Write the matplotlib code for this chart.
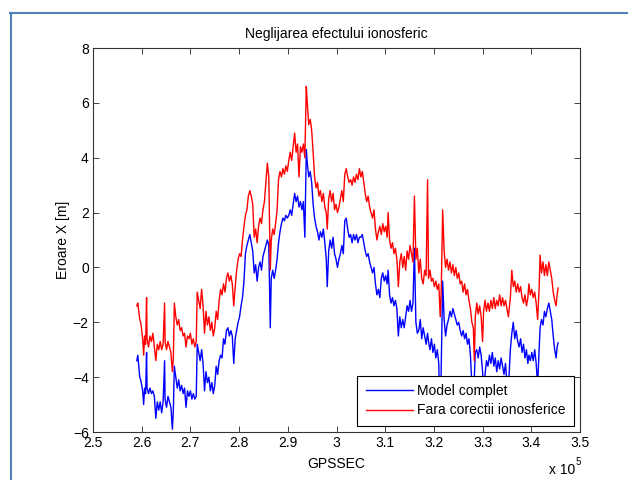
import matplotlib
matplotlib.use('Agg')
import matplotlib.pyplot as plt
from matplotlib.lines import Line2D

plt.rcParams['font.family'] = ['Liberation Sans', 'DejaVu Sans']
plt.rcParams['font.size'] = 10

# GPSSEC in units of 1e5 s
gpssec = [
    2.590, 2.592, 2.594, 2.596, 2.598, 2.600, 2.602, 2.604, 2.606, 2.608,
    2.610, 2.611, 2.614, 2.617, 2.620, 2.623, 2.626, 2.629, 2.632, 2.635,
    2.638, 2.641, 2.644, 2.647, 2.648, 2.651, 2.654, 2.657, 2.660, 2.663,
    2.665, 2.667, 2.670, 2.673, 2.676, 2.679, 2.682, 2.685, 2.688, 2.691,
    2.694, 2.697, 2.700, 2.703, 2.706, 2.709, 2.712, 2.714, 2.717, 2.720,
    2.723, 2.726, 2.729, 2.732, 2.735, 2.738, 2.741, 2.744, 2.747, 2.750,
    2.753, 2.756, 2.759, 2.762, 2.765, 2.768, 2.771, 2.774, 2.777, 2.780,
    2.783, 2.786, 2.789, 2.792, 2.795, 2.798, 2.801, 2.804, 2.807, 2.810,
    2.813, 2.816, 2.819, 2.822, 2.825, 2.828, 2.831, 2.834, 2.837, 2.840,
    2.843, 2.846, 2.849, 2.852, 2.855, 2.858, 2.861, 2.864, 2.866, 2.869,
    2.872, 2.875, 2.878, 2.881, 2.884, 2.887, 2.890, 2.893, 2.896, 2.899,
    2.902, 2.905, 2.908, 2.911, 2.914, 2.917, 2.920, 2.923, 2.926, 2.929,
    2.932, 2.935, 2.938, 2.940, 2.943, 2.946, 2.949, 2.952, 2.955, 2.958,
    2.961, 2.964, 2.967, 2.970, 2.973, 2.976, 2.979, 2.981, 2.984, 2.987,
    2.990, 2.993, 2.996, 2.999, 3.002, 3.005, 3.008, 3.011, 3.014, 3.017,
    3.020, 3.023, 3.026, 3.029, 3.032, 3.035, 3.038, 3.041, 3.044, 3.047,
    3.050, 3.053, 3.056, 3.059, 3.062, 3.065, 3.068, 3.071, 3.074, 3.077,
    3.080, 3.083, 3.086, 3.089, 3.092, 3.095, 3.098, 3.101, 3.104, 3.106,
    3.109, 3.112, 3.115, 3.118, 3.121, 3.124, 3.127, 3.130, 3.133, 3.136,
    3.139, 3.142, 3.145, 3.148, 3.151, 3.154, 3.157, 3.160, 3.163, 3.166,
    3.169, 3.172, 3.175, 3.178, 3.181, 3.184, 3.187, 3.189, 3.192, 3.195,
    3.198, 3.201, 3.204, 3.207, 3.210, 3.213, 3.215, 3.218, 3.221, 3.224,
    3.227, 3.230, 3.233, 3.236, 3.239, 3.242, 3.245, 3.248, 3.251, 3.254,
    3.257, 3.260, 3.263, 3.266, 3.269, 3.272, 3.275, 3.278, 3.281, 3.283,
    3.285, 3.288, 3.291, 3.294, 3.297, 3.300, 3.302, 3.305, 3.308, 3.311,
    3.314, 3.317, 3.320, 3.323, 3.326, 3.329, 3.332, 3.335, 3.338, 3.341,
    3.344, 3.347, 3.350, 3.353, 3.357, 3.360, 3.363, 3.366, 3.369, 3.372,
    3.375, 3.378, 3.381, 3.384, 3.387, 3.390, 3.393, 3.395, 3.398, 3.401,
    3.404, 3.407, 3.410, 3.413, 3.416, 3.418, 3.421, 3.424, 3.427, 3.430,
    3.433, 3.436, 3.439, 3.442, 3.445, 3.448, 3.451, 3.453, 3.455,
]

model_complet = [
    -3.4, -3.2, -3.6, -4.0, -4.1, -4.3, -4.5, -5.0, -4.4, -4.6,
    -3.1, -4.4, -4.6, -4.4, -4.6, -4.5, -4.7, -5.5, -4.9, -5.2,
    -4.9, -5.3, -4.9, -3.4, -4.8, -5.1, -4.7, -4.9, -5.1, -5.9,
    -5.2, -3.6, -4.0, -4.4, -4.1, -4.5, -4.3, -4.6, -4.4, -5.1,
    -4.5, -4.7, -4.5, -4.8, -4.6, -4.8, -4.7, -2.8, -3.1, -3.4,
    -3.0, -3.5, -4.5, -3.8, -4.2, -4.0, -4.5, -4.2, -4.6, -4.3,
    -3.6, -3.9, -3.4, -3.2, -3.3, -2.6, -2.8, -2.3, -2.2, -2.5,
    -2.3, -2.5, -3.5, -2.6, -2.3, -2.0, -1.8, -1.4, -1.1, -0.5,
    0.5, 0.8, 1.0, 1.2, 0.9, 0.6, -0.2, 0.1, -0.5, 0.0,
    0.2, -0.1, 0.4, 0.6, 0.8, 1.0, 0.8, -2.2, -0.4, -0.1,
    -0.4, -0.1, 0.3, 0.9, 1.3, 1.6, 1.8, 1.7, 1.9, 1.8,
    1.9, 2.1, 1.9, 2.3, 2.7, 2.4, 2.6, 2.2, 2.4, 2.1,
    2.4, 1.1, 4.3, 3.8, 3.3, 3.5, 3.1, 2.3, 1.8, 1.5,
    1.3, 1.0, 1.3, 1.1, 1.4, 0.9, 0.3, -0.7, 0.6, 1.0,
    0.7, 1.1, 0.5, 0.3, 0.0, 0.3, 0.5, 0.8, 0.5, 1.7,
    1.8, 1.4, 1.1, 1.2, 0.9, 1.2, 1.0, 1.2, 0.9, 1.1,
    1.1, 1.2, 0.9, 0.6, 0.4, 0.5, 0.2, 0.0, -0.2, 0.0,
    -0.6, -1.0, -0.8, -1.1, -0.4, -0.2, -0.5, -0.3, -0.6, -0.1,
    -1.0, -1.3, -1.1, -1.4, -1.2, -1.5, -2.5, -1.8, -2.2, -1.9,
    -2.2, -1.8, -1.4, -1.6, -1.2, -1.6, -1.3, 0.7, -2.0, -2.4,
    -2.3, -1.9, -2.6, -2.2, -2.5, -2.8, -2.4, -2.7, -3.0, -2.6,
    -3.1, -2.8, -3.3, -3.0, -3.5, -5.8, -3.6, -0.5, -1.9, -2.5,
    -2.1, -1.9, -1.6, -1.8, -1.5, -1.7, -1.9, -2.1, -2.0, -2.3,
    -2.5, -2.3, -2.6, -2.4, -2.8, -2.6, -3.2, -4.3, -4.6, -4.0,
    -3.1, -3.0, -3.3, -2.9, -3.2, -3.8, -4.6, -3.9, -3.4, -3.6,
    -3.2, -3.5, -3.1, -3.6, -3.3, -3.8, -3.4, -3.7, -3.3, -3.6,
    -3.9, -3.5, -4.2, -4.4, -3.0, -2.4, -2.0, -2.6, -2.3, -2.7,
    -2.9, -2.6, -3.1, -2.8, -3.3, -3.0, -3.5, -3.2, -3.4, -3.1,
    -3.4, -3.0, -3.5, -4.3, -3.0, -2.2, -1.9, -2.1, -1.6, -1.8,
    -1.5, -1.3, -1.6, -1.9, -2.5, -3.0, -3.3, -2.9, -2.75,
]

fara_corectii = [
    -1.4, -1.3, -1.6, -1.9, -2.0, -2.3, -2.6, -3.2, -2.5, -2.8,
    -1.1, -2.6, -2.9, -2.5, -2.7, -2.4, -2.9, -3.4, -2.8, -3.0,
    -2.7, -3.0, -2.8, -1.3, -2.7, -3.0, -2.7, -2.9, -3.1, -3.8,
    -3.3, -1.3, -1.8, -2.1, -1.9, -2.3, -2.2, -2.5, -2.4, -2.9,
    -2.5, -2.6, -2.4, -2.8, -2.6, -2.9, -2.7, -0.9, -1.2, -1.5,
    -0.8, -1.4, -2.4, -1.6, -2.1, -1.8, -2.3, -2.0, -2.5, -2.2,
    -1.6, -1.9, -1.2, -0.8, -1.0, -0.6, -0.9, -0.4, -0.2, -0.5,
    -0.3, -0.6, -1.4, -0.7, -0.1, 0.3, 0.5, 0.4, 1.0, 1.5,
    1.9, 2.1, 2.6, 2.8, 2.6, 2.3, 1.1, 1.4, 0.9, 1.5,
    1.8, 1.6, 2.1, 2.4, 3.1, 3.8, 3.3, -0.1, 1.0, 1.4,
    1.2, 1.6, 2.1, 3.2, 3.5, 3.3, 3.6, 3.4, 3.7, 3.5,
    3.9, 4.2, 3.9, 4.4, 4.9, 4.2, 4.5, 3.3, 4.4, 4.2,
    4.5, 4.0, 6.6, 6.0, 5.2, 5.4, 5.0, 4.2, 3.3, 2.9,
    3.1, 2.6, 2.8, 2.4, 2.7, 2.2, 2.0, 1.4, 2.5, 2.8,
    2.4, 2.7, 2.1, 2.3, 2.0, 2.2, 2.5, 2.8, 2.4, 3.4,
    3.6, 3.3, 3.1, 3.2, 3.0, 3.3, 3.1, 3.4, 3.2, 3.6,
    3.3, 3.5, 3.1, 2.7, 2.4, 2.6, 2.2, 2.0, 1.8, 2.1,
    1.4, 1.0, 1.3, 1.5, 1.2, 1.6, 1.3, 1.5, 1.1, 2.0,
    1.0, 0.7, 0.9, 0.5, 0.7, 0.3, -0.7, 0.2, 0.5, 0.0,
    0.4, -0.1, 0.6, 0.3, 0.8, 0.5, 0.2, 2.6, 0.3, 0.7,
    -0.2, 0.3, -0.4, -0.6, -0.1, -0.3, 3.2, -0.4, -0.1, -0.5,
    -0.4, -0.7, -0.5, -0.8, -0.6, -1.8, -0.9, 2.1, 0.6, 0.0,
    0.3, -0.1, 0.2, -0.2, 0.1, -0.3, 0.0, -0.4, -0.2, -0.6,
    -0.5, -0.9, -0.6, -1.0, -0.8, -1.2, -1.5, -2.0, -2.2, -3.4,
    -1.8, -1.3, -1.7, -1.4, -1.8, -2.7, -1.6, -1.2, -1.6, -1.3,
    -1.6, -1.2, -1.5, -1.1, -1.5, -1.2, -1.4, -1.0, -1.4, -1.1,
    -1.4, -1.2, -1.5, -1.8, -1.1, -0.1, -0.7, -0.5, -0.9, -0.6,
    -0.9, -0.7, -1.1, -1.3, -1.0, -1.4, -1.1, -0.6, -1.0, -0.8,
    -1.1, -0.9, -1.3, -1.9, -0.8, 0.45, -0.2, 0.2, -0.3, 0.1,
    -0.3, 0.2, -0.1, -0.4, -0.9, -1.2, -1.4, -1.0, -0.75,
]

x_ticks = [2.5, 2.6, 2.7, 2.8, 2.9, 3.0, 3.1, 3.2, 3.3, 3.4, 3.5]
x_labels = ['2.5', '2.6', '2.7', '2.8', '2.9', '3', '3.1', '3.2', '3.3', '3.4', '3.5']
y_ticks = [-6, -4, -2, 0, 2, 4, 6, 8]

fig = plt.figure(figsize=(6.28, 4.8), dpi=100)
ax = fig.add_axes([93 / 628, 48 / 480, 487 / 628, 384 / 480])

ax.plot(gpssec, model_complet, color='#0000ff', lw=1.0, label='Model complet')
ax.plot(gpssec, fara_corectii, color='#ff0000', lw=1.0, label='Fara corectii ionosferice')

ax.set_xlim(2.5, 3.5)
ax.set_ylim(-6, 8)
ax.set_xticks(x_ticks)
ax.set_xticklabels(x_labels)
ax.set_yticks(y_ticks)
ax.tick_params(direction='in', top=True, right=True, length=4, width=0.6,
               labelsize=10, colors='#222222', labelcolor='black')
ax.tick_params(axis='x', pad=3)
ax.tick_params(axis='y', pad=3)
for s in ax.spines.values():
    s.set_linewidth(0.8)
    s.set_color('#333333')

ax.set_title('Neglijarea efectului ionosferic', fontsize=10, pad=7)
ax.set_xlabel('GPSSEC', fontsize=10, labelpad=5)
ax.set_ylabel('Eroare X [m]', fontsize=10, labelpad=2)

leg = ax.legend(loc='lower right', fontsize=10, fancybox=False, framealpha=1,
                edgecolor='black', borderaxespad=0.45, handlelength=3.4,
                handletextpad=0.3, borderpad=0.6, labelspacing=0.4)
leg.get_frame().set_linewidth(0.8)

fig.text(549 / 628, 1 - 470 / 480, 'x 10', fontsize=10, va='center')
fig.text(576 / 628, 1 - 462 / 480, '5', fontsize=7, va='center')

# window frame lines
fig.add_artist(Line2D([10 / 628, 1], [1 - 13 / 480, 1 - 13 / 480], color='#4f81bd', lw=1.5))
fig.add_artist(Line2D([11 / 628, 11 / 628], [0, 1 - 13 / 480], color='#4f81bd', lw=1.5))

fig.savefig('out.png', dpi=100)
